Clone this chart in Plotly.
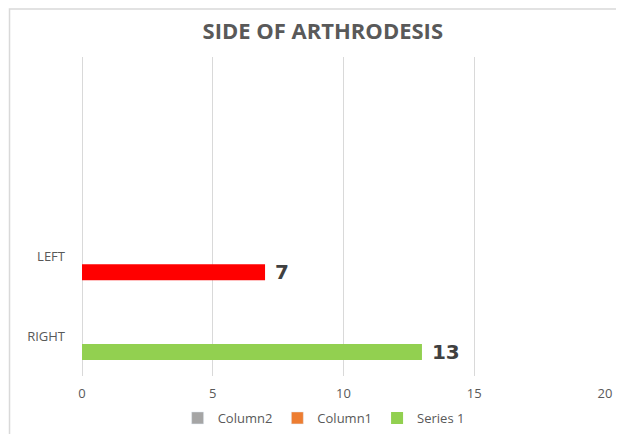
import plotly.graph_objects as go

# data
categories = ["RIGHT", "LEFT", " ", "  "]
series_1 = [13, 7, None, None]
column_1 = [None, None, None, None]
column_2 = [None, None, None, None]
x_ticks = [0, 5, 10, 15, 20]

bar_colors = ["#92D050", "#FF0000", "#5B9BD5", "#5B9BD5"]
grid_col = "#D9D9D9"
txt_col = "#595959"

fig = go.Figure()

# Excel-Reihenfolge: Series 1 unten in der Gruppe
fig.add_trace(go.Bar(
    y=categories, x=series_1, orientation="h", name="Series 1",
    marker=dict(color=bar_colors, line=dict(width=0)),
    texttemplate=" %{x}", textposition="outside", constraintext="none",
    textfont=dict(family="DejaVu Sans", size=20, color="#404040", weight="bold"),
    cliponaxis=False,
))
fig.add_trace(go.Bar(
    y=categories, x=column_1, orientation="h", name="Column1",
    marker=dict(color="#ED7D31"),
))
fig.add_trace(go.Bar(
    y=categories, x=column_2, orientation="h", name="Column2",
    marker=dict(color="#A5A5A5"),
))

# Rahmen um die Grafik
fig.add_shape(type="rect", xref="paper", yref="paper",
              x0=-0.1386, x1=1.1, y0=-0.25, y1=1.1505,
              line=dict(color=grid_col, width=1.5), fillcolor="rgba(0,0,0,0)")

# Seite hat 8px Rand -> Figur etwas kleiner
fig.update_layout(
    width=616, height=426,
    margin=dict(l=74, r=19, t=49, b=58, autoexpand=False),
    paper_bgcolor="white", plot_bgcolor="white",
    barmode="group", bargap=0.4, bargroupgap=0,
    font=dict(family="Open Sans, Liberation Sans, sans-serif", color=txt_col),
    title=dict(
        text="<b>SIDE OF ARTHRODESIS</b>",
        x=0.511, xanchor="center", xref="container",
        y=0.946, yanchor="middle", yref="container",
        font=dict(size=22, color=txt_col),
    ),
    legend=dict(
        orientation="h", x=0.462, xanchor="center",
        y=0.0376, yanchor="middle", yref="container",
        traceorder="reversed", font=dict(size=13, color=txt_col),
        itemwidth=30,
    ),
    xaxis=dict(
        range=[0, 20], tickvals=x_ticks, showgrid=True, gridcolor=grid_col,
        gridwidth=1, zeroline=True, zerolinecolor=grid_col, zerolinewidth=1,
        showline=False, ticks="", tickfont=dict(size=13, color=txt_col),
        ticklabelstandoff=8,
    ),
    yaxis=dict(
        range=[-0.5, 3.5], showgrid=False, zeroline=False, showline=False,
        ticks="", tickfont=dict(size=13, color=txt_col), ticklabelstandoff=16,
    ),
)

fig.write_html("out.html")
